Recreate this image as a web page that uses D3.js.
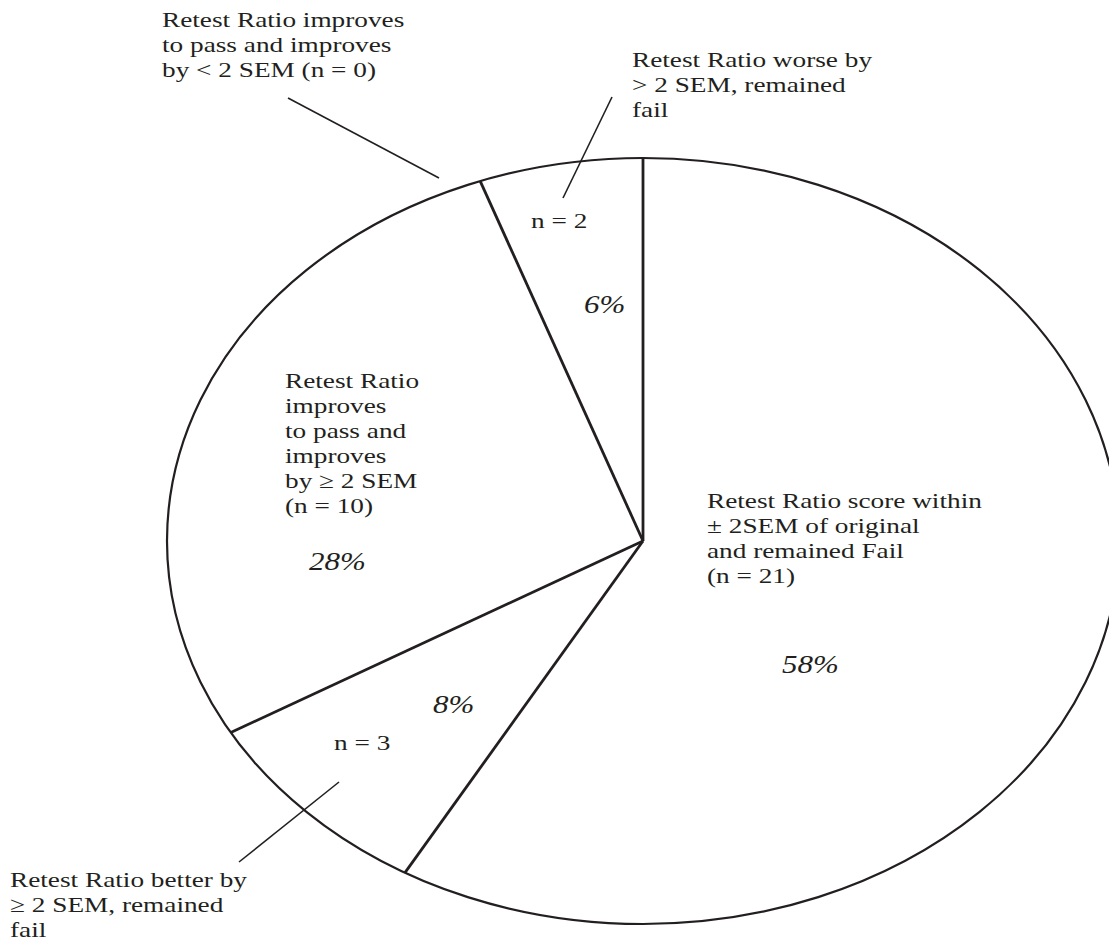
<!DOCTYPE html>
<html>
<head>
<meta charset="utf-8">
<script src="https://cdn.jsdelivr.net/npm/d3@7"></script>
<style>
  html, body { margin: 0; padding: 0; background: #fff; }
  svg { display: block; }
  text { font-family: "Liberation Serif", "Times New Roman", serif; fill: #231f20; }
</style>
</head>
<body>
<div id="chart"></div>
<script>
// slices, clockwise from 12 o'clock
const categories = [
  'Retest Ratio score within ± 2SEM of original and remained Fail',
  'Retest Ratio better by ≥ 2 SEM, remained fail',
  'Retest Ratio improves to pass and improves by ≥ 2 SEM',
  'Retest Ratio improves to pass and improves by < 2 SEM',
  'Retest Ratio worse by > 2 SEM, remained fail'
];
const counts = [21, 3, 10, 0, 2];

// label text, broken as in the figure
const labelLines = [
  ['Retest Ratio score within', '± 2SEM of original', 'and remained Fail', '(n = 21)'],
  ['Retest Ratio better by', '≥ 2 SEM,  remained', 'fail'],
  ['Retest Ratio', 'improves', 'to pass and', 'improves', 'by ≥ 2 SEM', '(n = 10)'],
  ['Retest Ratio improves', 'to pass and improves', 'by < 2 SEM (n = 0)'],
  ['Retest Ratio worse by', '> 2 SEM, remained', 'fail']
];

// layout (hand placed like the original)
const labelPos = [[707, 508], [10, 887], [285, 388], [162, 27], [632, 67]];
const pctPos = [[782, 673], [433, 713], [309, 570], null, [584, 313]];
const nPos = [null, [334, 750], null, null, [531, 228]];
const leaders = [null, [[339, 782], [239, 862]], null, [[288, 98], [439, 178]], [[612, 97], [563, 198]]];

const width = 1109, height = 943;
const cx = 643, cy = 541, rx = 476, ry = 383;
const sx = 1.24; // figure is stretched horizontally
const ink = '#231f20';

const svg = d3.select('#chart').append('svg')
  .attr('width', width)
  .attr('height', height);

const total = d3.sum(counts);
const pie = d3.pie().sort(null).value(d => d);
const arcs = pie(counts);

const pieG = svg.append('g')
  .attr('transform', `translate(${cx},${cy}) scale(${rx / ry},1)`);

const arc = d3.arc().innerRadius(0).outerRadius(ry);

// outline
pieG.append('path')
  .attr('d', arc({ startAngle: 0, endAngle: 2 * Math.PI }))
  .attr('fill', '#fff')
  .attr('stroke', ink)
  .attr('stroke-width', 2.2)
  .attr('vector-effect', 'non-scaling-stroke');

// slice borders
const angles = Array.from(new Set(arcs.map(a => a.startAngle.toFixed(6)))).map(Number);
pieG.selectAll('.edge')
  .data(angles)
  .join('line')
  .attr('class', 'edge')
  .attr('x1', 0).attr('y1', 0)
  .attr('x2', a => ry * Math.sin(a))
  .attr('y2', a => -ry * Math.cos(a))
  .attr('stroke', ink)
  .attr('stroke-width', 2.8)
  .attr('vector-effect', 'non-scaling-stroke');

// leader lines
svg.selectAll('.leader')
  .data(leaders.filter(l => l))
  .join('line')
  .attr('class', 'leader')
  .attr('x1', d => d[0][0]).attr('y1', d => d[0][1])
  .attr('x2', d => d[1][0]).attr('y2', d => d[1][1])
  .attr('stroke', ink)
  .attr('stroke-width', 1.6);

function stretched(x, y) {
  return `translate(${x},${y}) scale(${sx},1)`;
}

// category labels
arcs.forEach((a, i) => {
  const t = svg.append('text')
    .attr('transform', stretched(labelPos[i][0], labelPos[i][1]))
    .attr('font-size', 22);
  t.selectAll('tspan')
    .data(labelLines[i])
    .join('tspan')
    .attr('x', 0)
    .attr('y', (d, j) => j * 25)
    .text(d => d);

  if (pctPos[i]) {
    svg.append('text')
      .attr('transform', stretched(pctPos[i][0], pctPos[i][1]))
      .attr('font-size', 25)
      .attr('font-style', 'italic')
      .text(Math.round(a.value / total * 100) + '%');
  }
  if (nPos[i]) {
    svg.append('text')
      .attr('transform', stretched(nPos[i][0], nPos[i][1]))
      .attr('font-size', 22)
      .text(`n = ${a.value}`);
  }
});
</script>
</body>
</html>
